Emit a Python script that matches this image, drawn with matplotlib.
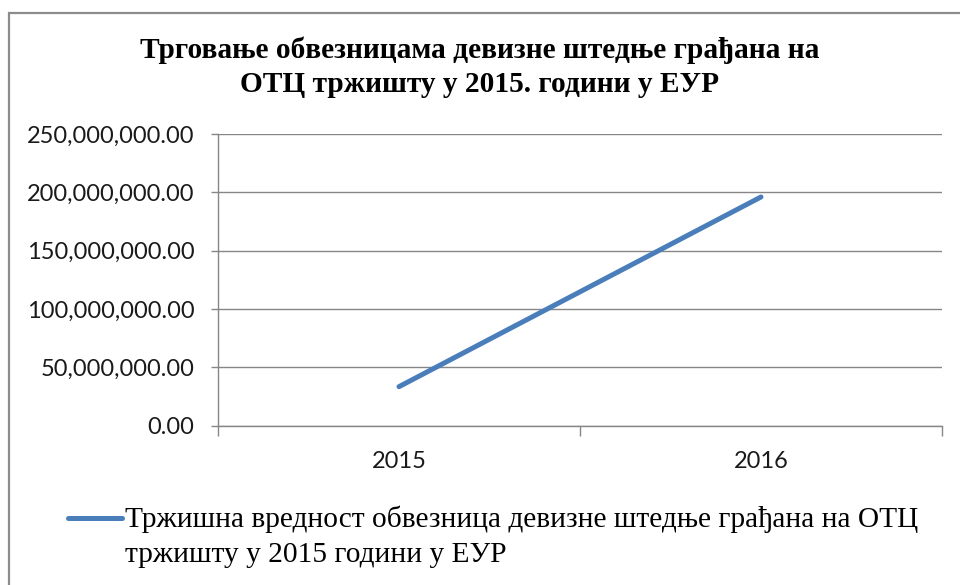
import matplotlib
matplotlib.use("Agg")
import matplotlib.pyplot as plt
from matplotlib.patches import Rectangle
from matplotlib.lines import Line2D
from matplotlib.ticker import FuncFormatter, MultipleLocator

# ---- data ----
years = ["2015", "2016"]
values = [33300000, 196000000]
title_line1 = "Трговање обвезницама девизне штедње грађана на"
title_line2 = "ОТЦ тржишту у 2015. години у ЕУР"
legend_line1 = "Тржишна вредност обвезница девизне штедње грађана на ОТЦ"
legend_line2 = "тржишту у 2015 години у ЕУР"

W, H = 960, 585
fig = plt.figure(figsize=(W / 100, H / 100), dpi=100)
fig.patch.set_facecolor("white")

def fx(px):
    return px / W

def fy(py):
    return 1 - py / H

# outer chart frame (extends past right and bottom edges)
fig.patches.append(Rectangle((fx(9), fy(600)), fx(980), fy(13) - fy(600),
                             transform=fig.transFigure, fill=False,
                             edgecolor="#8c8c8c", linewidth=1.6))

left, right, top, bottom = 218, 942, 134, 425.5
ax = fig.add_axes([fx(left), fy(bottom), fx(right - left), fy(top) - fy(bottom)])

xpos = list(range(len(years)))
line, = ax.plot(xpos, values, color="#4a7ebb", linewidth=3.6,
                solid_capstyle="round", zorder=3)

ax.set_xlim(-0.5, len(years) - 0.5)
ax.set_ylim(0, 250000000)
ax.yaxis.set_major_locator(MultipleLocator(50000000))
ax.yaxis.set_major_formatter(FuncFormatter(lambda v, p: f"{v:,.2f}"))
ax.grid(axis="y", color="#868686", linewidth=1.0, zorder=0)
ax.set_axisbelow(True)

for s in ["top", "right"]:
    ax.spines[s].set_visible(False)
ax.spines["left"].set_color("#868686")
ax.spines["bottom"].set_color("#868686")
ax.spines["left"].set_linewidth(1.0)
ax.spines["bottom"].set_linewidth(1.0)

# category ticks: labels at centers, tick marks at boundaries
ax.set_xticks(xpos)
ax.set_xticklabels(years)
ax.set_xticks([i - 0.5 for i in range(len(years) + 1)], minor=True)
ax.tick_params(axis="x", which="major", length=0, pad=18)
ax.tick_params(axis="x", which="minor", length=7, color="#868686", width=1.0)
ax.tick_params(axis="y", length=5, color="#868686", width=1.0, pad=12)
for lab in ax.get_xticklabels() + ax.get_yticklabels():
    lab.set_fontfamily("Lato")
    lab.set_fontsize(17)
    lab.set_color("#1a1a1a")

# title (two centered lines)
for txt, base in [(title_line1, 58), (title_line2, 92)]:
    fig.text(0.5, fy(base), txt, ha="center", va="baseline",
             fontfamily="Liberation Serif", fontweight="bold",
             fontsize=21.2, color="black")

# legend (handle + two-line label)
fig.lines.append(Line2D([fx(68), fx(122)], [fy(518), fy(518)],
                        transform=fig.transFigure, color=line.get_color(),
                        linewidth=3.6, solid_capstyle="round"))
fig.text(fx(125), fy(527), legend_line1, ha="left", va="baseline",
         fontfamily="Liberation Serif", fontsize=21.2, color="black")
fig.text(fx(125), fy(562), legend_line2, ha="left", va="baseline",
         fontfamily="Liberation Serif", fontsize=21.2, color="black")

fig.savefig("out.png", dpi=100)
